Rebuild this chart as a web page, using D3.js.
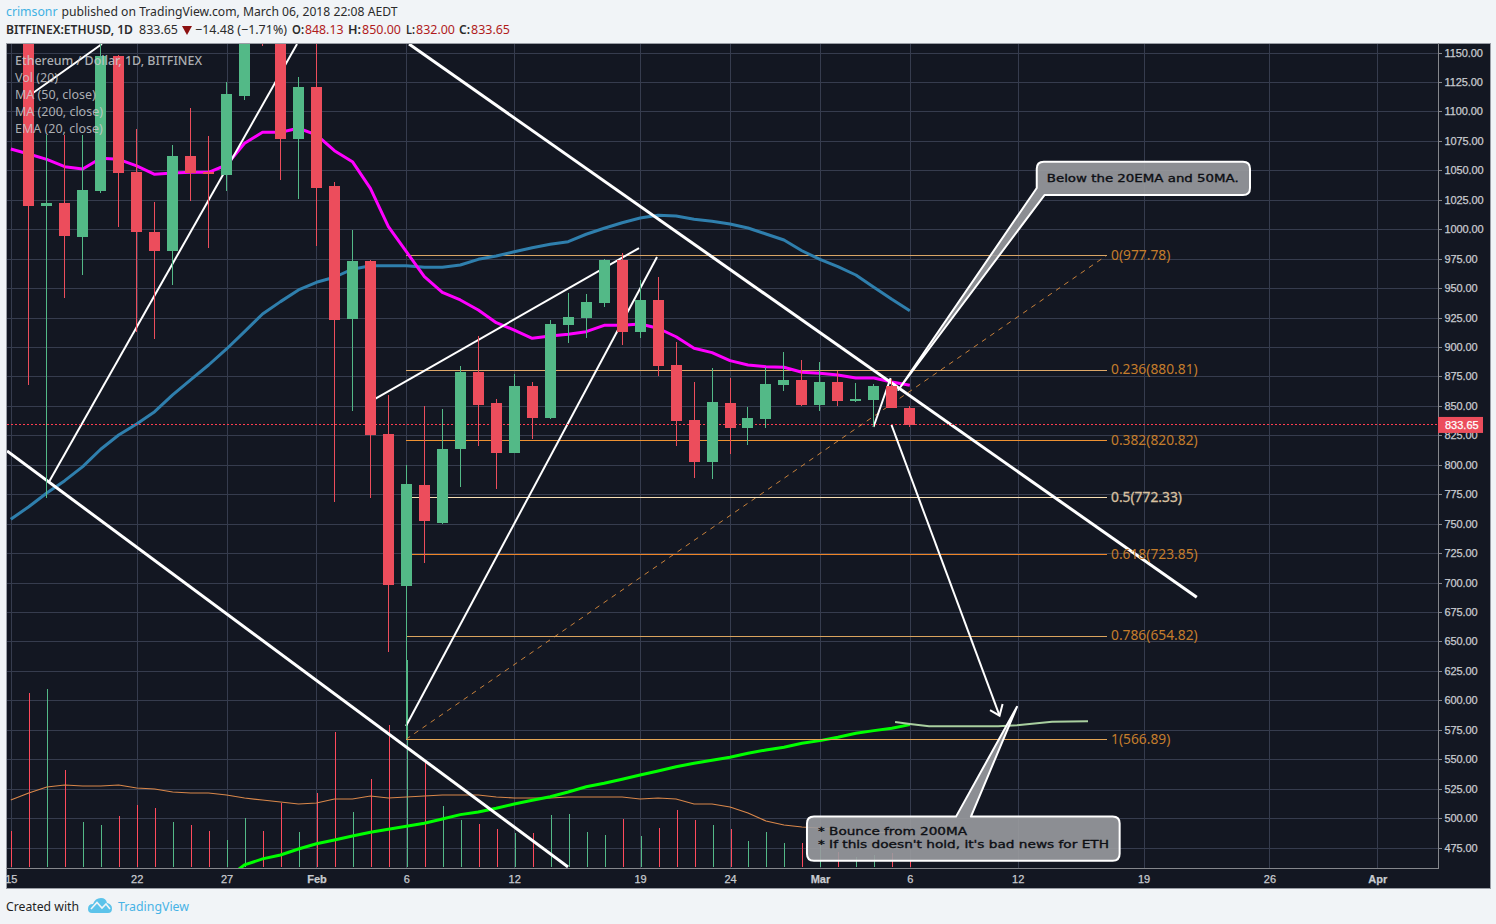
<!DOCTYPE html>
<html>
<head>
<meta charset="utf-8">
<style>
html,body{margin:0;padding:0;background:#f1f4f7;overflow:hidden}
svg{display:block}
text{white-space:pre}
</style>
<script src="https://cdnjs.cloudflare.com/ajax/libs/d3/7.8.5/d3.min.js"></script>
</head>
<body>
<svg id="c" width="1496" height="924"></svg>
<script>
// ---- data (day 0 = 15 Jan 2018) ----
const priceTicks = [1150,1125,1100,1075,1050,1025,1000,975,950,925,900,875,850,825,800,775,750,725,700,675,650,625,600,575,550,525,500,475];
const timeTickDays = [0,7,12,17,22,28,35,40,45,50,56,63,70,76];
const timeTickLabels = ["15","22","27","Feb","6","12","19","24","Mar","6","12","19","26","Apr"];
const openP = [null,1190,1020,1022,993.6,1032.7,1147,1048.6,998,981.7,1062,1048.6,1046,1113.3,1200,1190,1076.8,1120.7,1036.7,924,973,826,697.4,782.9,750.6,813.4,878.8,852.5,810.3,867,840,918.7,924.6,937.4,973.9,912.7,940,884.7,838,802.4,852.5,831,839,867.7,872,850.8,870.3,854.2,855,867,848.13];
const closeP = [null,1020,1022,994.5,1033.3,1147,1048,997.9,981.7,1062,1047.7,1047,1114.8,1190,1165,1076.8,1120.7,1035,923,973,825.3,698,783.7,752.3,813.4,878.8,850.8,810.3,867,840,919.5,925.5,938.2,973.9,912.7,940,884,837,802.4,853.3,831,839.7,868.6,872,850.8,870.3,854.2,856,867,848.2,833.65];
const highP = [null,1200,1080,1080,1080,1175,1148,1085,1023,1071.5,1103,1079,1125,1200,1210,1200,1129,1170,1040,999.3,974,859,800,850,847.4,884,909.3,856,877,870.3,923,946,945,974.7,979.8,957,959.4,904,870.3,882,873.7,849,883,896,889,887.3,879.6,869.4,868.6,873,850];
const lowP = [null,868,772,941.6,961,1030.7,1002,913,906.8,952.6,1024,984,1032.7,1110,1155.5,1041.8,1025.6,985.7,768.7,846,772,641,566.89,717,750,781,816,779.5,810,822,839,903.6,908,934,901.7,908,875,816,789,788,809,817,831,862.6,850,845.7,850,853.3,832.3,848,832];
const volume = [36,174,178,97,45,42,51,62,59,45,42,36,27,49,36,64,35,74,135,55,88,142,207,105,61,47,43,38,34,34,52,53,35,32,48,31,39,57,47,42,38,26,35,24,24,25,15,10,12,14,7];
const volumeUp = [0,0,1,0,1,1,0,0,0,1,0,0,1,1,0,0,1,0,0,1,0,0,1,0,1,1,0,0,1,0,1,1,1,1,0,1,0,0,0,1,0,1,1,1,0,1,0,1,1,0,0];
const volumeMA = [67,74,80,82,81,81,82,79,78,75,74,74,72,69,67,65,63,64,68,68,71,69,70,71,72,72,72,70,69,69,69,70,70,70,70,68,69,68,63,63,60,54,46,42,40,39,37,35,35,34,32];
const ema20 = [1068.1,1063.8,1059.3,1053.1,1051.1,1060.2,1059.3,1053.7,1046.6,1047.7,1048.3,1048.3,1054.5,1072.9,1082.3,1082.3,1085.7,1080,1066.6,1057.3,1034.7,1002.1,980.9,959.7,946.3,939.9,931.4,920.6,914.4,907.4,909.3,910.8,913,918.4,918.4,919.5,915.9,908.7,898.9,895.2,888.4,884.7,883.3,882.8,878.5,877.7,876.2,873.7,873.7,870.3,867.5];
const ma50 = [753.7,764.4,776,786.5,798.4,813.2,825.3,834.6,845.1,859.3,872,884.7,898.3,913,928,938.5,948.4,954.9,959.2,966,969,969,969,967.7,967.7,969.6,974.4,977.2,980.9,984.3,987.2,989.4,995.7,1000.8,1005.5,1009.5,1011.8,1011.2,1008.4,1006.7,1004.4,1001,995.9,990.8,981.7,974.4,968.2,961.1,950.7,940.5,930.8];
const ma200Start = 12;
const ma200 = [449,460.3,465.4,468.7,473.8,478.3,481.5,484.9,488,490.6,493.1,495.7,499.3,503,505.3,508.4,512,515.2,518.2,522.2,526.7,529.6,533,536.7,540.1,543.7,546.6,549.1,551.7,555.1,557.9,560.2,563.6,565.8,568.7,572.1,574.3,576.3,579.4];
const lastPrice = 833.65;
const fibLabels = ["0(977.78)","0.236(880.81)","0.382(820.82)","0.5(772.33)","0.618(723.85)","0.786(654.82)","1(566.89)"];
const fibLevels = [977.78,880.81,820.82,772.33,723.85,654.82,566.89];
const fibLineColors = ["#d8a566","#dfa868","#ee9233","#f9e0b4","#ee8426","#dba45f","#e2a456"];
const fibTextColors = ["#c47d2c","#c47d2c","#c47d2c","#d8c0a0","#c47d2c","#c47d2c","#c47d2c"];
const fibStartDay = 21.98, fibEndDay = 60.95;
// drawing tools: [day, price] pairs
const thickLines = [[[22.15,1157.2],[65.96,687.5]],[[-0.21,811.7],[30.99,458.6]]];
const thinLines = [
 [[2.12,785.4],[15.92,1157.2]],
 [[1.23,1115.6],[5.07,1157.2]],
 [[20.26,855.9],[34.94,984]],
 [[21.98,578.3],[35.94,976.4]],
 [[47.98,832.1],[48.93,873.7]],
 [[48.98,833.8],[54.99,587]],
 [[54.46,591.8],[54.99,587],[55.16,597]]
];
const brushLine = [[49.18,581.6],[50.01,580],[51.07,578],[54.91,578],[55.96,578.9],[57.91,581.9],[59.91,582.3]];
const callout1 = {box:[57.06,1057.3,68.92,1029], tip:[49.36,863.5], baseA:[57.49,1029], baseB:[57.06,1035], lines:["Below the 20EMA and 50MA."], widths:[192]};
const callout2 = {box:[44.28,501.3,61.67,463.9], tip:[55.96,594.5], baseA:[52.57,501.3], baseB:[53.40,501.3], lines:["* Bounce from 200MA","* If this doesn't hold, it's bad news for ETH"], widths:[149,291]};
const legendLines = ["Ethereum / Dollar, 1D, BITFINEX","Vol (20)","MA (50, close)","MA (200, close)","EMA (20, close)"];

// ---- scales ----
const x = d3.scaleLinear().domain([0,76]).range([10.8,1377.3]);
const y = d3.scaleLinear().domain([1150,475]).range([52.5,847.6]);
const vy = d3.scaleLinear().domain([0,207]).range([867,660]);
const UP="#53b987", DOWN="#ec4d5c", GRID="#363c4e", BG="#131722";
const PX={l:7,r:1438,t:44,b:868};

const svg=d3.select("#c");
const uiFont='"Noto Sans",sans-serif';
const axisFont='"Liberation Sans",Arial,sans-serif';
function fit(sel,len){return sel.attr("textLength",len).attr("lengthAdjust","spacingAndGlyphs");}
svg.append("rect").attr("x",6).attr("y",43).attr("width",1484.5).attr("height",845).attr("fill",BG).attr("stroke","#9a9ea6").attr("stroke-width",1).attr("shape-rendering","crispEdges");
svg.append("defs").append("clipPath").attr("id","plot").append("rect").attr("x",PX.l).attr("y",PX.t).attr("width",PX.r-PX.l).attr("height",PX.b-PX.t);

// grid
const grid=svg.append("g").attr("shape-rendering","crispEdges").attr("stroke",GRID);
grid.selectAll("line.h").data(priceTicks).join("line").attr("class","h").attr("x1",PX.l).attr("x2",PX.r).attr("y1",d=>Math.round(y(d))+.5).attr("y2",d=>Math.round(y(d))+.5);
grid.selectAll("line.v").data(timeTickDays).join("line").attr("class","v").attr("y1",PX.t).attr("y2",PX.b).attr("x1",d=>Math.round(x(d))+.5).attr("x2",d=>Math.round(x(d))+.5);

const plot=svg.append("g").attr("clip-path","url(#plot)");

// volume
plot.append("g").attr("shape-rendering","crispEdges").selectAll("rect").data(volume).join("rect")
 .attr("x",(d,i)=>Math.round(x(i)-.5)+1).attr("width",1)
 .attr("y",d=>vy(d)).attr("height",d=>vy(0)-vy(d))
 .attr("fill",(d,i)=>volumeUp[i]?UP:"#ff4a5c");
plot.append("path").attr("d",d3.line().x((d,i)=>x(i)).y(d=>vy(d))(volumeMA)).attr("fill","none").attr("stroke","#d9874a").attr("stroke-width",1.2);

// 200 MA
plot.append("path").attr("d",d3.line().x((d,i)=>x(i+ma200Start)).y(d=>y(d))(ma200)).attr("fill","none").attr("stroke","#00ff00").attr("stroke-width",3);
// brush continuation
plot.append("path").attr("d",d3.line().x(d=>x(d[0])).y(d=>y(d[1]))(brushLine)).attr("fill","none").attr("stroke","#a9cf9f").attr("stroke-width",2);

// fib retracement
const fib=plot.append("g");
fib.append("line").attr("x1",x(fibStartDay)).attr("y1",y(fibLevels[6])).attr("x2",x(fibEndDay)).attr("y2",y(fibLevels[0])).attr("stroke","#c8813a").attr("stroke-dasharray","5,5");
fib.selectAll("line.f").data(fibLevels).join("line").attr("class","f").attr("shape-rendering","crispEdges")
 .attr("x1",x(fibStartDay)).attr("x2",x(fibEndDay)).attr("y1",d=>Math.round(y(d))+.5).attr("y2",d=>Math.round(y(d))+.5)
 .attr("stroke",(d,i)=>fibLineColors[i]);

// moving averages
plot.append("path").attr("d",d3.line().x((d,i)=>x(i)).y(d=>y(d))(ma50)).attr("fill","none").attr("stroke","#2f7fad").attr("stroke-width",3).attr("stroke-linejoin","round");
plot.append("path").attr("d",d3.line().x((d,i)=>x(i)).y(d=>y(d))(ema20)).attr("fill","none").attr("stroke","#ff00ff").attr("stroke-width",3).attr("stroke-linejoin","round");

// drawings
const segLine=d3.line().x(d=>x(d[0])).y(d=>y(d[1]));
plot.append("g").selectAll("path").data(thickLines).join("path").attr("d",segLine).attr("fill","none").attr("stroke","#fff").attr("stroke-width",3);
plot.append("g").selectAll("path").data(thinLines).join("path").attr("d",segLine).attr("fill","none").attr("stroke","#fff").attr("stroke-width",2);

// last price line
plot.append("line").attr("x1",PX.l).attr("x2",PX.r).attr("y1",Math.round(y(lastPrice))-.5).attr("y2",Math.round(y(lastPrice))-.5).attr("stroke","#ff3d50").attr("stroke-dasharray","2,2").attr("shape-rendering","crispEdges");

// candles
const idx=d3.range(1,openP.length);
const cG=plot.append("g").attr("shape-rendering","crispEdges");
const colr=i=>closeP[i]>=openP[i]?UP:DOWN;
cG.selectAll("rect.w").data(idx).join("rect").attr("class","w")
 .attr("x",i=>Math.round(x(i)-.5)).attr("width",1)
 .attr("y",i=>y(highP[i])).attr("height",i=>y(lowP[i])-y(highP[i])).attr("fill",colr);
cG.selectAll("rect.b").data(idx).join("rect").attr("class","b")
 .attr("x",i=>Math.round(x(i)-.5)-5).attr("width",11)
 .attr("y",i=>y(Math.max(openP[i],closeP[i]))).attr("height",i=>Math.max(1.5,Math.abs(y(openP[i])-y(closeP[i])))).attr("fill",colr);

// callouts
function calloutPath(c){
 const r=7,x0=x(c.box[0]),x1=x(c.box[2]),y0=y(c.box[1]),y1=y(c.box[3]);
 const p=d3.path();
 const tx=x(c.tip[0]),ty=y(c.tip[1]),ax=x(c.baseA[0]),ay=y(c.baseA[1]),bx=x(c.baseB[0]),by=y(c.baseB[1]);
 p.moveTo(x0+r,y0);
 if(ay===y0){p.lineTo(ax,ay);p.lineTo(tx,ty);p.lineTo(bx,by);}
 p.lineTo(x1-r,y0);p.quadraticCurveTo(x1,y0,x1,y0+r);
 p.lineTo(x1,y1-r);p.quadraticCurveTo(x1,y1,x1-r,y1);
 if(ay===y1){p.lineTo(ax,ay);p.lineTo(tx,ty);p.lineTo(bx,by);p.lineTo(x0,y0+r);}
 else{p.lineTo(x0+r,y1);p.quadraticCurveTo(x0,y1,x0,y1-r);p.lineTo(x0,y0+r);}
 p.quadraticCurveTo(x0,y0,x0+r,y0);p.closePath();
 return p.toString();
}
[callout1,callout2].forEach((c,k)=>{
 svg.append("path").attr("d",calloutPath(c)).attr("fill","rgba(154,155,160,0.9)").attr("stroke","#fff").attr("stroke-width",2).attr("stroke-linejoin","round");
 const tx=x(c.box[0])+(k===0?10:11), tBase=k===0?y(c.box[1])+20.5:y(c.box[1])+18;
 c.lines.forEach((s,j)=>fit(svg.append("text").attr("x",tx).attr("y",tBase+j*13).text(s).attr("font-family",'"DejaVu Sans",sans-serif').attr("font-size",11).attr("fill","#0d0f14").attr("stroke","#0d0f14").attr("stroke-width",.35),c.widths[j]));
});

// fib labels
svg.append("g").selectAll("text").data(fibLabels).join("text").attr("x",1111).attr("y",(d,i)=>y(fibLevels[i])+4.5).text(d=>d)
 .attr("font-family",uiFont).attr("font-size",13.8).attr("fill",(d,i)=>fibTextColors[i]).attr("stroke",(d,i)=>i===3?fibTextColors[3]:"none").attr("stroke-width",.3);

// legend
const legendWidths=[187,null,null,null,null];
legendLines.forEach((s,i)=>{
 const t=svg.append("text").attr("x",15).attr("y",65+i*17).text(s).attr("font-family",uiFont).attr("font-size",12.5).attr("font-weight",i===0?500:400).attr("fill","#c9cbce").attr("fill-opacity",.85);
 if(legendWidths[i])fit(t,legendWidths[i]);
});

// price axis
svg.append("line").attr("x1",1438.5).attr("x2",1438.5).attr("y1",43).attr("y2",868).attr("stroke","#85878c").attr("shape-rendering","crispEdges");
const pAxis=svg.append("g").attr("transform","translate(1438.5,0)").call(d3.axisRight(y).tickValues(priceTicks).tickFormat(d3.format(".2f")).tickSize(3).tickPadding(3));
pAxis.select(".domain").remove();
pAxis.selectAll("line").attr("stroke","#85878c").attr("shape-rendering","crispEdges");
pAxis.selectAll("text").attr("font-family",axisFont).attr("font-size",11).attr("fill","#c8cbd0").attr("letter-spacing",-0.1).attr("stroke","#c8cbd0").attr("stroke-width",.25);
svg.append("rect").attr("x",1438).attr("y",y(lastPrice)-8.2).attr("width",45).attr("height",16).attr("fill",DOWN);
svg.append("text").attr("x",1445).attr("y",y(lastPrice)+4).text(d3.format(".2f")(lastPrice)).attr("font-family",axisFont).attr("font-size",11).attr("fill","#fff").attr("stroke","#fff").attr("stroke-width",.25);

// time axis
svg.append("line").attr("x1",6).attr("x2",1438.5).attr("y1",868.5).attr("y2",868.5).attr("stroke","#85878c").attr("shape-rendering","crispEdges");
const tAxis=svg.append("g").attr("transform","translate(0,868)").call(d3.axisBottom(x).tickValues(timeTickDays).tickFormat((d,i)=>timeTickLabels[i]).tickSize(0).tickPadding(7));
tAxis.select(".domain").remove();
tAxis.selectAll("text").attr("font-family",axisFont).attr("font-size",11).attr("fill","#c8cbd0").attr("stroke","#c8cbd0").attr("stroke-width",.25).attr("font-weight",d=>[17,45,76].includes(d)?700:400);

// header
function ht(px,py,s,col,w,len){return fit(svg.append("text").attr("x",px).attr("y",py).text(s).attr("font-family",uiFont).attr("font-size",12.8).attr("fill",col).attr("font-weight",w||400),len);}
const RED="#b01c1c",INK="#2b2b2b";
ht(6,15.5,"crimsonr","#3fb1e3",400,51.5);
ht(61.5,15.5,"published on TradingView.com, March 06, 2018 22:08 AEDT",INK,400,336);
ht(6,34,"BITFINEX:ETHUSD, 1D",INK,600,127);
ht(139,34,"833.65",INK,400,39);
svg.append("path").attr("d",d3.line()([[182,26],[192,26],[187,35]])+"Z").attr("fill","#8c1010");
ht(195,34,"\u221214.48 (\u22121.71%)",INK,400,92);
ht(292,34,"O:",INK,600,12);ht(305,34,"848.13",RED,400,38.5);
ht(348,34,"H:",INK,600,13);ht(362,34,"850.00",RED,400,39);
ht(406,34,"L:",INK,600,9);ht(416,34,"832.00",RED,400,39);
ht(459,34,"C:",INK,600,11);ht(471,34,"833.65",RED,400,39);

// footer
ht(6,911,"Created with","#1f1f1f",400,73);
svg.append("path").attr("d","M88 909 Q88 904 93 904 Q95 898 101 898 Q106 898 107 903 Q112 904 112 908.5 Q112 913 108 913 L92 913 Q88 913 88 909Z").attr("fill","#5cc3ea");
svg.append("path").attr("d","M91 909 L97 902.5 L102 908 L106 904 L110 909").attr("fill","none").attr("stroke","#f1f4f7").attr("stroke-width",1.6);
ht(118,911,"TradingView","#47b3e6",400,71);
</script>
</body>
</html>
